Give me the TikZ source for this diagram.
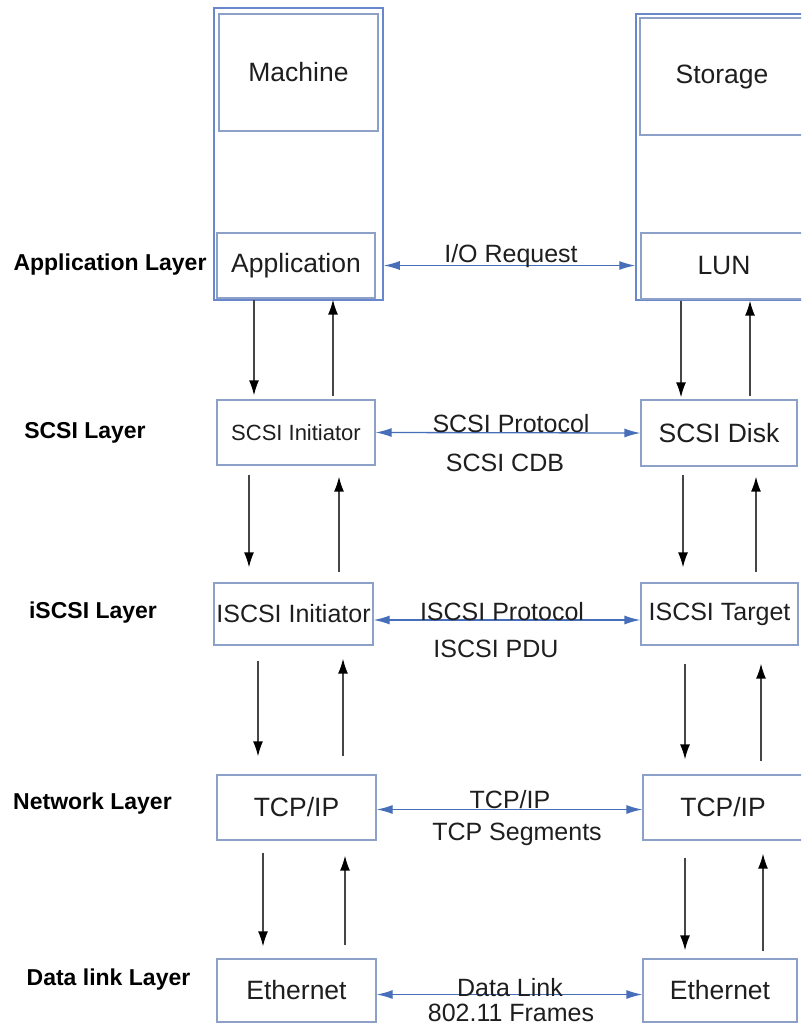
\documentclass[tikz,border=0pt]{standalone}
\usepackage{fontspec}
\setmainfont{Liberation Sans}
\usetikzlibrary{arrows.meta}
\definecolor{boxc}{RGB}{140,160,200}
\definecolor{framec}{RGB}{105,135,205}
\definecolor{harc}{RGB}{70,110,185}
\definecolor{varc}{RGB}{70,70,70}
\definecolor{txt}{RGB}{30,30,30}
\begin{document}
\begin{tikzpicture}[x=1pt,y=-1pt,
  box/.style={draw=boxc, line width=1.3pt, fill=white, inner sep=0pt, text=txt, font=\fontsize{26.5}{30}\selectfont},
  smallbox/.style={box, font=\fontsize{22}{26}\selectfont},
  midbox/.style={box, font=\fontsize{25}{29}\selectfont},
  frame/.style={draw=framec, line width=1.5pt, fill=white, inner sep=0pt},
  layer/.style={text=black, font=\fontsize{23}{27}\selectfont\bfseries, inner sep=0pt},
  mid/.style={text=txt, font=\fontsize{25}{29}\selectfont, inner sep=0pt, anchor=base},
  harrow/.style={draw=harc, line width=1.3pt, {Latex[length=16pt,width=9pt]}-{Latex[length=16pt,width=9pt]}},
  varrow/.style={draw=varc, line width=1.4pt, -{Latex[length=15pt,width=10pt,color=black]}}
]
\useasboundingbox (0,0) rectangle (801,1027);
\clip (0,0) rectangle (801,1027);

% machine side
\node[frame, minimum width=169pt, minimum height=292pt] (mframe) at (298.5,154) {};
\node[box, minimum width=159pt, minimum height=117pt] (mach) at (298.5,72.5) {Machine};
\node[box, minimum width=158pt, minimum height=65pt] (app) at (296,265.5) {Application};

% storage side
\node[frame, minimum width=180pt, minimum height=286pt] (sframe) at (726,157) {};
\node[box, minimum width=164pt, minimum height=117pt] (stor) at (722,76.5) {Storage};
\node[box, minimum width=166pt, minimum height=66pt] (lun) at (724,266) {LUN};

% layer boxes
\node[smallbox, minimum width=158pt, minimum height=65pt] (si) at (296,432.5) {SCSI Initiator};
\node[box, minimum width=156pt, minimum height=66pt] (sd) at (719,433) {SCSI Disk};
\node[midbox, minimum width=159pt, minimum height=62pt] (ii) at (293.5,614) {ISCSI Initiator};
\node[midbox, minimum width=157pt, minimum height=62pt] (it) at (719.5,614) {ISCSI Target};
\node[box, minimum width=159pt, minimum height=65pt] (tl) at (296.5,807.5) {TCP/IP};
\node[box, minimum width=160pt, minimum height=65pt] (tr) at (723,807.5) {TCP/IP};
\node[box, minimum width=159pt, minimum height=63pt] (el) at (296.5,990.5) {Ethernet};
\node[box, minimum width=154pt, minimum height=63pt] (er) at (720,990.5) {Ethernet};

% layer labels
\node[layer] (lapp) at (110,265) {Application Layer};
\node[layer] (lscsi) at (85,433) {SCSI Layer};
\node[layer] (liscsi) at (93,613) {iSCSI Layer};
\node[layer] (lnet) at (92.5,804) {Network Layer};
\node[layer] (ldl) at (108.5,980) {Data link Layer};

% horizontal protocol arrows
\draw[harrow] (mframe.east |- app) -- (sframe.west |- app);
\draw[harrow] (si.east) -- (sd.west);
\draw[harrow] ([yshift=-6pt]ii.east) -- ([yshift=-6pt]it.west);
\draw[harrow] ([yshift=-2pt]tl.east) -- ([yshift=-2pt]tr.west);
\draw[harrow] ([yshift=-4pt]el.east) -- ([yshift=-4pt]er.west);

% protocol labels
\node[mid] (tio) at (511,262) {I/O Request};
\node[mid] (tsp) at (511,432) {SCSI Protocol};
\node[mid] (tsc) at (505,471) {SCSI CDB};
\node[mid] (tip) at (502,620) {ISCSI Protocol};
\node[mid] (tipdu) at (496,657) {ISCSI PDU};
\node[mid] (ttcp) at (510,808) {TCP/IP};
\node[mid] (tseg) at (517,840) {TCP Segments};
\node[mid] (tdl) at (510,996) {Data Link};
\node[mid] (tfr) at (511,1021) {802.11 Frames};

% vertical arrows, row 1 -> 2
\draw[varrow, shorten <=1pt, shorten >=4pt] ([xshift=-42pt]app.south) -- ([xshift=-42pt]si.north);
\draw[varrow, shorten <=3pt, shorten >=1pt] ([xshift=37pt]si.north) -- ([xshift=37pt]app.south);
\draw[varrow, shorten <=1pt, shorten >=2pt] ([xshift=-43pt]lun.south) -- ([xshift=-38pt]sd.north);
\draw[varrow, shorten <=3pt, shorten >=1pt] ([xshift=31pt]sd.north) -- ([xshift=26pt]lun.south);
% row 2 -> 3
\draw[varrow, shorten <=9pt, shorten >=15pt] ([xshift=-47pt]si.south) -- ([xshift=-44.5pt]ii.north);
\draw[varrow, shorten <=10pt, shorten >=11pt] ([xshift=45.5pt]ii.north) -- ([xshift=43pt]si.south);
\draw[varrow, shorten <=8pt, shorten >=15pt] ([xshift=-36pt]sd.south) -- ([xshift=-36.5pt]it.north);
\draw[varrow, shorten <=10pt, shorten >=10pt] ([xshift=36.5pt]it.north) -- ([xshift=37pt]sd.south);
% row 3 -> 4
\draw[varrow, shorten <=15pt, shorten >=18pt] ([xshift=-35.5pt]ii.south) -- ([xshift=-38.5pt]tl.north);
\draw[varrow, shorten <=18pt, shorten >=13pt] ([xshift=46.5pt]tl.north) -- ([xshift=49.5pt]ii.south);
\draw[varrow, shorten <=18pt, shorten >=15pt] ([xshift=-34.5pt]it.south) -- ([xshift=-38pt]tr.north);
\draw[varrow, shorten <=13pt, shorten >=18pt] ([xshift=38pt]tr.north) -- ([xshift=41.5pt]it.south);
% row 4 -> 5
\draw[varrow, shorten <=12pt, shorten >=12pt] ([xshift=-33.5pt]tl.south) -- ([xshift=-33.5pt]el.north);
\draw[varrow, shorten <=13pt, shorten >=15pt] ([xshift=48.5pt]el.north) -- ([xshift=48.5pt]tl.south);
\draw[varrow, shorten <=17pt, shorten >=8pt] ([xshift=-38pt]tr.south) -- ([xshift=-35pt]er.north);
\draw[varrow, shorten <=7pt, shorten >=13pt] ([xshift=43pt]er.north) -- ([xshift=40pt]tr.south);
\end{tikzpicture}
\end{document}
